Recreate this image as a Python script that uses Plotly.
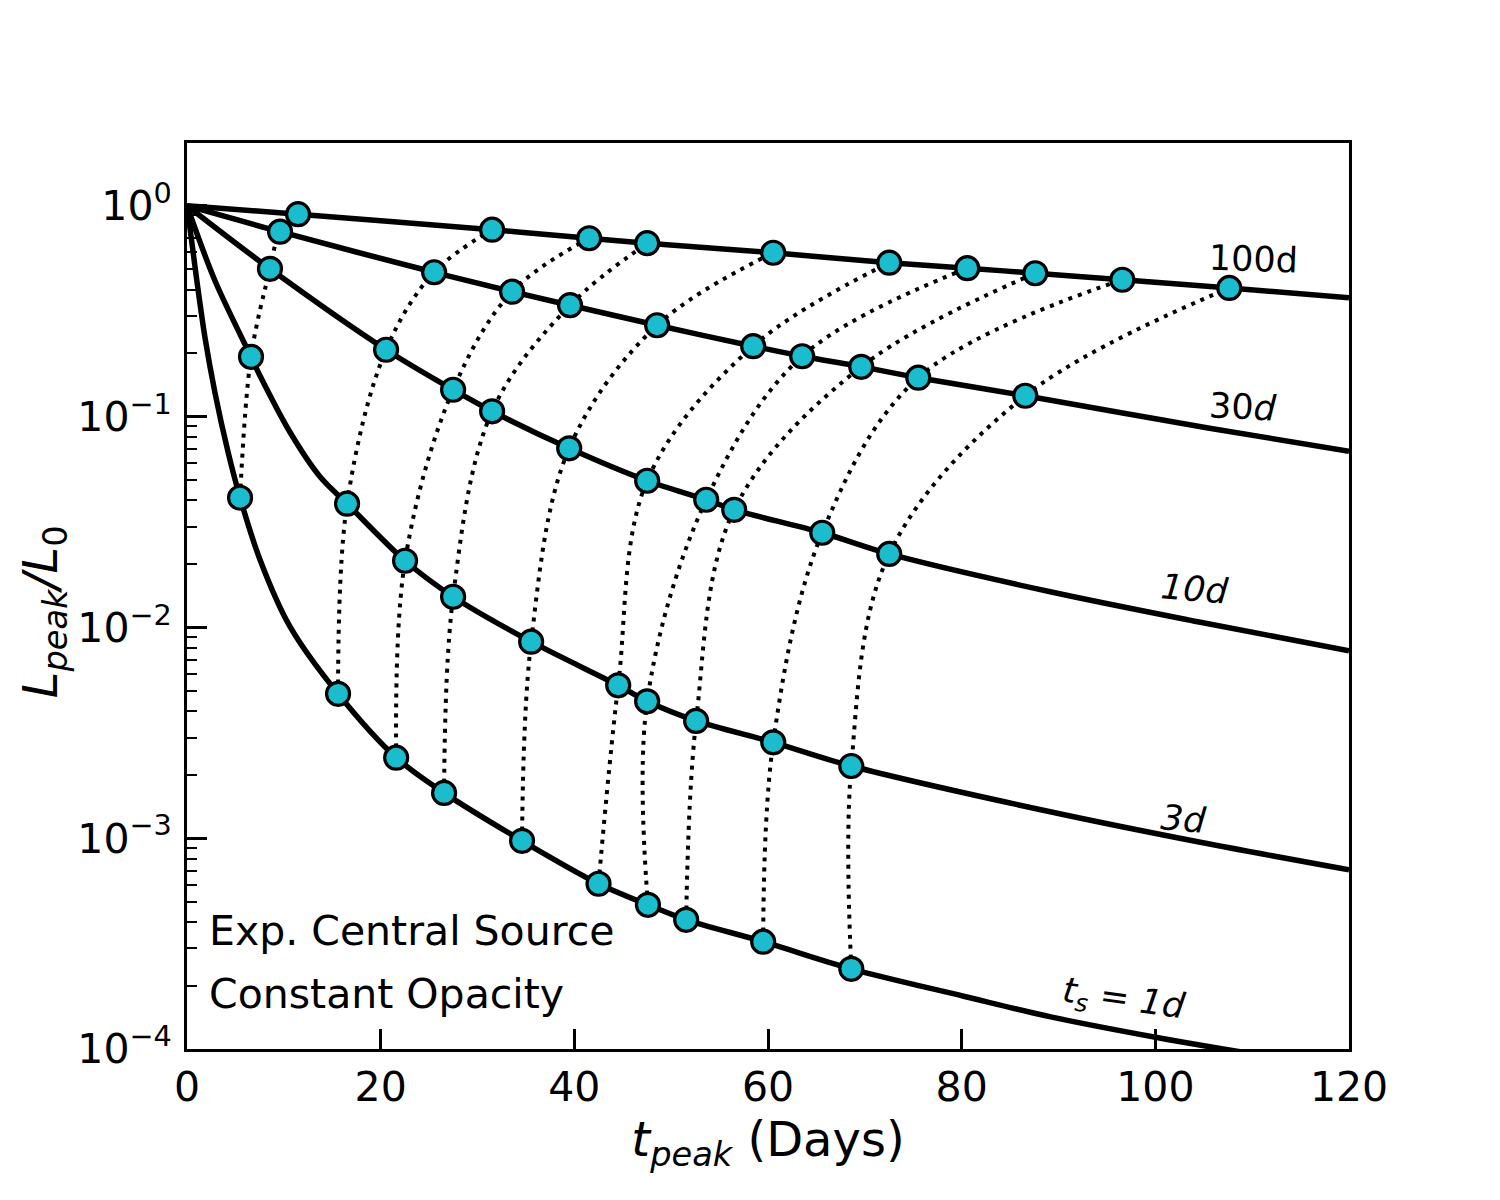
import math
import plotly.graph_objects as go

# ---------------- data ----------------
# marker points on each curve (t_peak in days, L_peak/L_0)
T_1D = [5.48, 15.6, 21.6, 26.55, 34.6, 42.5, 47.6, 51.55, 59.5, 68.6]
L_1D = [0.0412, 0.00484, 0.00241, 0.00164, 0.000972, 0.000608, 0.000483, 0.000410, 0.000323, 0.000240]

T_3D = [6.61, 16.53, 22.52, 27.48, 35.54, 44.53, 47.52, 52.58, 60.54, 68.6]
L_3D = [0.192, 0.0386, 0.0207, 0.01397, 0.00855, 0.00531, 0.00446, 0.00360, 0.00285, 0.00220]

T_10D = [8.57, 20.56, 27.48, 31.51, 39.47, 47.52, 53.62, 56.51, 65.6, 72.52]
L_10D = [0.502, 0.2074, 0.134, 0.1059, 0.0707, 0.0496, 0.0403, 0.0361, 0.0281, 0.0223]

T_30D = [9.61, 25.52, 33.57, 39.56, 48.55, 58.47, 63.53, 69.63, 75.52, 86.57]
L_30D = [0.753, 0.4835, 0.391, 0.3373, 0.2711, 0.2156, 0.1932, 0.1722, 0.1528, 0.1255]

T_100D = [11.47, 31.51, 41.53, 47.52, 60.54, 72.52, 80.58, 87.6, 96.59, 107.64]
L_100D = [0.9113, 0.7696, 0.7011, 0.6639, 0.5984, 0.5366, 0.5053, 0.4783, 0.4456, 0.4074]

# extra points (besides the markers)
CT_1D = [0, 1.03, 1.86, 2.89, 4.23, 7.54, 10.64, 80.2, 89.2, 100.3, 107.0, 112.0]
CL_1D = [1.0, 0.436, 0.2365, 0.1297, 0.0681, 0.02093, 0.01007, 1.78e-4, 1.42e-4, 1.13e-4, 1.0e-4, 9.2e-5]

CT_3D = [0, 2.89, 7.54, 10.64, 13.74, 89.15, 104.65, 120]
CL_3D = [1.0, 0.4406, 0.1561, 0.0842, 0.0518, 0.001334, 0.000956, 0.000708]

CT_10D = [0, 89.15, 104.65, 120]
CL_10D = [1.0, 0.01475, 0.01057, 0.00774]

CT_30D = [0, 105.6, 120]
CL_30D = [1.0, 0.0880, 0.0684]

CT_100D = [0, 120]
CL_100D = [1.0, 0.3661]

CURVE_LABELS = ["<i>t</i><sub><i>s</i></sub><i> = 1d</i>", "<i>3d</i>", "<i>10d</i>", "30<i>d</i>", "100d"]
LABEL_T = [96.7, 102.9, 104.1, 109.1, 110.1]
LABEL_L = [10**-3.771, 10**-2.908, 10**-1.817, 10**-0.9535, 10**-0.2514]

Y_TICKVALS = [1e-4, 1e-3, 1e-2, 1e-1, 1]
Y_TICKTEXT = ["10<sup>\u22124</sup>", "10<sup>\u22123</sup>", "10<sup>\u22122</sup>",
              "10<sup>\u22121</sup>", "10<sup>0</sup>"]
X_TICKVALS = [0, 20, 40, 60, 80, 100, 120]

# ---------------- figure ----------------
FONT = "DejaVu Sans"
CYAN = "#1abccd"

markers_t = [T_1D, T_3D, T_10D, T_30D, T_100D]
markers_l = [L_1D, L_3D, L_10D, L_30D, L_100D]
curves_t = [CT_1D, CT_3D, CT_10D, CT_30D, CT_100D]
curves_l = [CL_1D, CL_3D, CL_10D, CL_30D, CL_100D]

fig = go.Figure()

# solid curves: extra points merged with the marker points
for ct, cl, mt, ml in zip(curves_t, curves_l, markers_t, markers_l):
    pts = sorted(zip(list(ct) + list(mt), list(cl) + list(ml)))
    fig.add_trace(go.Scatter(
        x=[p[0] for p in pts], y=[p[1] for p in pts], mode="lines",
        line=dict(color="black", width=5.5, shape="spline", smoothing=0.9),
        hoverinfo="skip", showlegend=False))

# dotted connectors: i-th marker of each curve
n = len(T_1D)
for i in range(n):
    fig.add_trace(go.Scatter(
        x=[mt[i] for mt in markers_t], y=[ml[i] for ml in markers_l], mode="lines",
        line=dict(color="black", width=4, dash="4px,6px", shape="spline", smoothing=1.0),
        hoverinfo="skip", showlegend=False))

# markers
for mt, ml in zip(markers_t, markers_l):
    fig.add_trace(go.Scatter(
        x=mt, y=ml, mode="markers",
        marker=dict(size=23, color=CYAN, line=dict(color="black", width=3.2)),
        showlegend=False))

annotations = []
angles = [8, 5, 5, 3, 2]
for txt, lt, ll, ang in zip(CURVE_LABELS, LABEL_T, LABEL_L, angles):
    annotations.append(dict(x=lt, y=math.log10(ll), xref="x", yref="y", text=txt,
                            showarrow=False, textangle=ang,
                            font=dict(family=FONT, size=35, color="black"),
                            xanchor="center", yanchor="middle"))

annotations.append(dict(x=2.07, y=-3.439, xref="x", yref="y", text="Exp. Central Source",
                        showarrow=False, xanchor="left", yanchor="middle",
                        font=dict(family=FONT, size=41, color="black")))
annotations.append(dict(x=2.07, y=-3.738, xref="x", yref="y", text="Constant Opacity",
                        showarrow=False, xanchor="left", yanchor="middle",
                        font=dict(family=FONT, size=41, color="black")))
# y-axis title
annotations.append(dict(x=-0.124, y=0.483, xref="paper", yref="paper",
                        text="<i>L</i><sub><i>peak</i></sub><i>/L</i><sub>0</sub>",
                        showarrow=False, textangle=-90, xanchor="center", yanchor="middle",
                        font=dict(family=FONT, size=48, color="black")))

minor_vals = [m * 10**e for e in range(-4, 1) for m in range(2, 10) if m * 10**e < 1.98]

fig.update_layout(
    width=1500, height=1200,
    margin=dict(l=187, r=151, t=143, b=151),
    paper_bgcolor="white", plot_bgcolor="white",
    font=dict(family=FONT, color="black"),
    annotations=annotations,
    xaxis=dict(
        range=[0, 120], tickvals=X_TICKVALS, ticks="inside", ticklen=20, tickwidth=2.5,
        tickcolor="black", showline=True, linewidth=3, linecolor="black", mirror=True,
        showgrid=False, zeroline=False,
        tickfont=dict(family=FONT, size=41, color="black"),
        title=dict(text="<i>t</i><sub><i>peak</i></sub> (Days)",
                   font=dict(family=FONT, size=48, color="black"), standoff=6),
    ),
    yaxis=dict(
        type="log", range=[-4, 0.2975], tickvals=Y_TICKVALS, ticktext=Y_TICKTEXT,
        ticks="inside", ticklen=20, tickwidth=2.5, tickcolor="black",
        minor=dict(tickvals=minor_vals, ticks="inside", ticklen=10, tickwidth=2,
                   tickcolor="black", showgrid=False),
        showline=True, linewidth=3, linecolor="black", mirror=True,
        showgrid=False, zeroline=False, ticklabelstandoff=4,
        tickfont=dict(family=FONT, size=41, color="black"),
    ),
)

fig.write_html("out.html")
